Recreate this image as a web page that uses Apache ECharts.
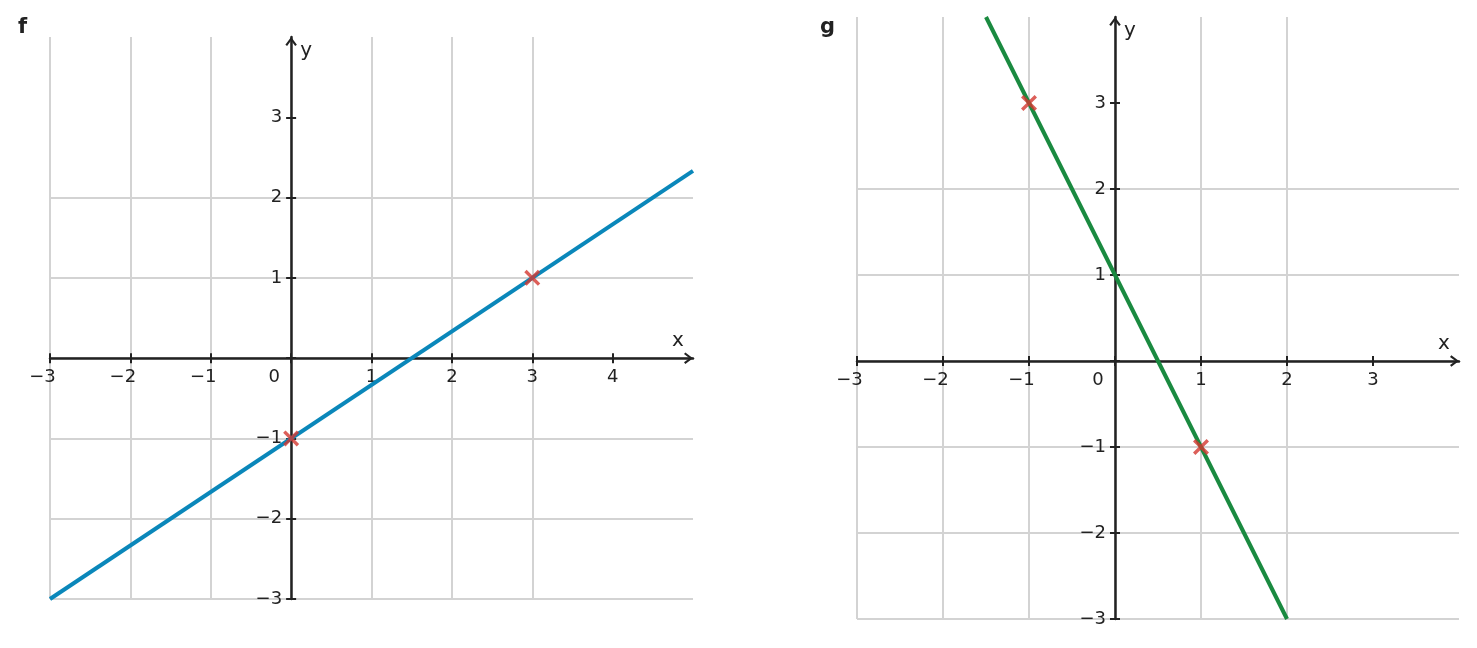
<!DOCTYPE html>
<html>
<head>
<meta charset="utf-8">
<script src="https://cdn.jsdelivr.net/npm/echarts@6/dist/echarts.min.js"></script>
<style>
  html, body { margin: 0; padding: 0; background: #fff; }
  #chart { width: 1477px; height: 648px; }
</style>
</head>
<body>
<div id="chart"></div>
<script>
// panel f: y = 2/3 x - 1
const ticksXF = [-3, -2, -1, 0, 1, 2, 3, 4];
const ticksYF = [-3, -2, -1, 0, 1, 2, 3];
const lineF = [[-3, -3], [5, 2.333]];
const pointsF = [[0, -1], [3, 1]];

// panel g: y = -2x + 1
const ticksXG = [-3, -2, -1, 0, 1, 2, 3];
const ticksYG = [-3, -2, -1, 0, 1, 2, 3];
const lineG = [[-1.5, 4], [2, -3]];
const pointsG = [[-1, 3], [1, -1]];

const FONT = 'DejaVu Sans';
const INK = '#222';
const GRID_GRAY = '#d3d3d3';
const FS = 18;
const CROSS = 'path://M0,3 L3,0 L10,7 L17,0 L20,3 L13,10 L20,17 L17,20 L10,13 L3,20 L0,17 L7,10 Z';
const CHEVRON = 'path://M0,8 L6,0 L12,8 L10.2,9.4 L6,3.6 L1.8,9.4 Z';

// grid boxes (px) so axes can sit on the zero lines
const boxF = { left: 50, right: 784, top: 37, bottom: 49, w: 643, h: 562 };
const boxG = { left: 857, right: 18, top: 17, bottom: 29, w: 602, h: 602 };

const minus = v => (v < 0 ? '\u2212' + Math.abs(v) : String(v));

function xLabel(v) {
    if (v === 0) return '{z|0}';
    if (v < 0) return '{n|' + minus(v) + '}';
    return String(v);
}
function yLabel(v) {
    return v === 0 ? '' : minus(v);
}

const labelRich = {
    z: { fontFamily: FONT, fontSize: FS, color: INK, padding: [0, 34, 0, 0] },
    n: { fontFamily: FONT, fontSize: FS, color: INK, padding: [0, 15, 0, 0] },
};

// distance from the low / high edge of the grid to value 0
const fromLow = (min, max, size) => (-min) / (max - min) * size;
const fromHigh = (min, max, size) => max / (max - min) * size;

const tickStyle = ticks => ({ show: true, length: 5, customValues: ticks, lineStyle: { color: INK, width: 2 } });

function mainX(grid, min, max, ticks, box, ymin, ymax) {
    return {
        type: 'value', gridIndex: grid, min, max, interval: 1, position: 'bottom',
        offset: -fromLow(ymin, ymax, box.h),
        name: 'x', nameLocation: 'end', nameGap: -15,
        nameTextStyle: { fontFamily: FONT, fontSize: 20, color: INK, align: 'center', verticalAlign: 'bottom', padding: [0, 0, 7, 0] },
        axisLine: {
            onZero: false,
            lineStyle: { color: INK, width: 2.5 },
            symbol: ['none', CHEVRON], symbolSize: [13, 9], symbolOffset: [0, -4.5],
        },
        axisTick: tickStyle(ticks),
        axisLabel: {
            customValues: ticks, formatter: xLabel, rich: labelRich, margin: 10,
            fontFamily: FONT, fontSize: FS, color: INK,
        },
        splitLine: { show: true, showMinLine: true, showMaxLine: false, lineStyle: { color: GRID_GRAY, width: 2 } },
    };
}
function mainY(grid, min, max, ticks, box, xmin, xmax) {
    return {
        type: 'value', gridIndex: grid, min, max, interval: 1, position: 'left',
        offset: -fromLow(xmin, xmax, box.w),
        name: 'y', nameLocation: 'end', nameGap: -14,
        nameTextStyle: { fontFamily: FONT, fontSize: 20, color: INK, align: 'left', verticalAlign: 'middle', padding: [0, 0, 0, 9] },
        axisLine: {
            onZero: false,
            lineStyle: { color: INK, width: 2.5 },
            symbol: ['none', CHEVRON], symbolSize: [13, 9], symbolOffset: [0, -4.5],
        },
        axisTick: tickStyle(ticks),
        axisLabel: {
            customValues: ticks, formatter: yLabel, margin: 9,
            fontFamily: FONT, fontSize: FS, color: INK,
        },
        splitLine: { show: true, showMinLine: true, showMaxLine: false, lineStyle: { color: GRID_GRAY, width: 2 } },
    };
}
// twin axes only add the other half of each tick mark
function twin(grid, min, max, ticks, pos, offset) {
    return {
        type: 'value', gridIndex: grid, min, max, interval: 1, position: pos, offset,
        axisLine: { show: true, onZero: false, lineStyle: { color: INK, width: 2.5, opacity: 0 } },
        axisTick: tickStyle(ticks),
        axisLabel: { show: false },
        splitLine: { show: false },
    };
}

const chart = echarts.init(document.getElementById('chart'));
chart.setOption({
    animation: false,
    backgroundColor: '#fff',
    title: [
        { text: 'f', left: 13, top: 12, textStyle: { fontFamily: FONT, fontSize: 21, fontWeight: 'bold', color: INK } },
        { text: 'g', left: 815, top: 12, textStyle: { fontFamily: FONT, fontSize: 21, fontWeight: 'bold', color: INK } },
    ],
    grid: [
        { left: boxF.left, right: boxF.right, top: boxF.top, bottom: boxF.bottom },
        { left: boxG.left, right: boxG.right, top: boxG.top, bottom: boxG.bottom },
    ],
    xAxis: [
        mainX(0, -3, 5, ticksXF, boxF, -3, 4),
        twin(0, -3, 5, ticksXF, 'top', -fromHigh(-3, 4, boxF.h)),
        mainX(1, -3, 4, ticksXG, boxG, -3, 4),
        twin(1, -3, 4, ticksXG, 'top', -fromHigh(-3, 4, boxG.h)),
    ],
    yAxis: [
        mainY(0, -3, 4, ticksYF, boxF, -3, 5),
        twin(0, -3, 4, ticksYF, 'right', -fromHigh(-3, 5, boxF.w)),
        mainY(1, -3, 4, ticksYG, boxG, -3, 4),
        twin(1, -3, 4, ticksYG, 'right', -fromHigh(-3, 4, boxG.w)),
    ],
    series: [
        {
            type: 'line', xAxisIndex: 0, yAxisIndex: 0, data: lineF, showSymbol: false,
            lineStyle: { color: '#0a87ba', width: 4 }, z: 3,
        },
        {
            type: 'scatter', xAxisIndex: 0, yAxisIndex: 0, data: pointsF, symbol: CROSS, symbolSize: 16,
            itemStyle: { color: '#d3372f' }, z: 4,
        },
        {
            type: 'line', xAxisIndex: 2, yAxisIndex: 2, data: lineG, showSymbol: false,
            lineStyle: { color: '#1a8a40', width: 4 }, z: 3,
        },
        {
            type: 'scatter', xAxisIndex: 2, yAxisIndex: 2, data: pointsG, symbol: CROSS, symbolSize: 16,
            itemStyle: { color: '#d3372f' }, z: 4,
        },
    ],
});
</script>
</body>
</html>
